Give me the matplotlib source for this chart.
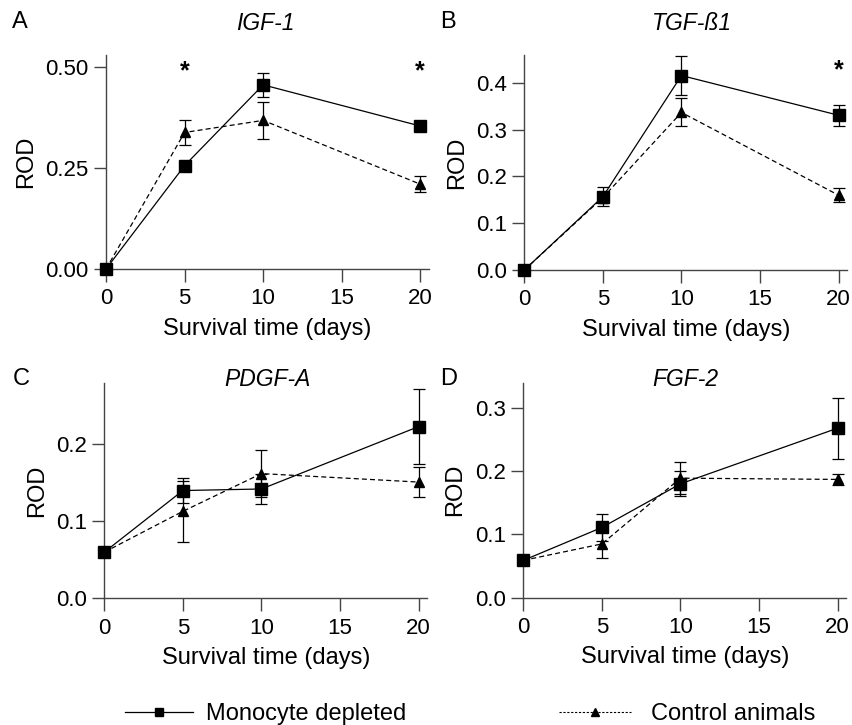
import numpy as np
import matplotlib.pyplot as plt
from matplotlib.lines import Line2D

plt.rcParams['font.family'] = ['Liberation Sans', 'DejaVu Sans']

days = [0, 5, 10, 20]

# IGF-1
igf_mono = [0.0, 0.256, 0.456, 0.354]
igf_mono_err = [0.0, 0.0, 0.030, 0.0]
igf_ctrl = [0.0, 0.338, 0.368, 0.210]
igf_ctrl_err = [0.0, 0.030, 0.045, 0.020]

# TGF-ß1
tgf_mono = [0.0, 0.157, 0.416, 0.331]
tgf_mono_err = [0.0, 0.021, 0.042, 0.023]
tgf_ctrl = [0.0, 0.155, 0.337, 0.160]
tgf_ctrl_err = [0.0, 0.0, 0.030, 0.015]

# PDGF-A
pdgf_mono = [0.060, 0.140, 0.142, 0.223]
pdgf_mono_err = [0.0, 0.016, 0.020, 0.049]
pdgf_ctrl = [0.060, 0.113, 0.162, 0.151]
pdgf_ctrl_err = [0.0, 0.040, 0.030, 0.020]

# FGF-2
fgf_mono = [0.059, 0.111, 0.180, 0.268]
fgf_mono_err = [0.0, 0.022, 0.020, 0.048]
fgf_ctrl = [0.059, 0.085, 0.189, 0.187]
fgf_ctrl_err = [0.0, 0.022, 0.025, 0.009]

panels = [
    ('A', 'IGF-1', igf_mono, igf_mono_err, igf_ctrl, igf_ctrl_err,
     0.53, [0, 0.25, 0.5], ['0.00', '0.25', '0.50'], [(5, 0.49), (20, 0.49)]),
    ('B', 'TGF-ß1', tgf_mono, tgf_mono_err, tgf_ctrl, tgf_ctrl_err,
     0.46, [0, 0.1, 0.2, 0.3, 0.4], ['0.0', '0.1', '0.2', '0.3', '0.4'], [(20, 0.427)]),
    ('C', 'PDGF-A', pdgf_mono, pdgf_mono_err, pdgf_ctrl, pdgf_ctrl_err,
     0.28, [0, 0.1, 0.2], ['0.0', '0.1', '0.2'], []),
    ('D', 'FGF-2', fgf_mono, fgf_mono_err, fgf_ctrl, fgf_ctrl_err,
     0.34, [0, 0.1, 0.2, 0.3], ['0.0', '0.1', '0.2', '0.3'], []),
]

# axes rectangles in figure fraction (left, bottom, width, height)
rects = [
    (0.1243, 0.629, 0.3785, 0.2952),
    (0.6147, 0.6276, 0.3785, 0.2966),
    (0.1223, 0.1747, 0.3785, 0.2974),
    (0.6135, 0.1756, 0.3785, 0.2966),
]
# panel letter (x, y) and title (x, y), figure fraction
letter_pos = [(0.014, 0.970), (0.516, 0.970), (0.015, 0.477), (0.516, 0.477)]
title_pos = [(0.311, 0.968), (0.811, 0.968), (0.313, 0.477), (0.803, 0.477)]
spine_c = '#444444'

fig = plt.figure(figsize=(8.53, 7.25), dpi=100)

for i, p in enumerate(panels):
    letter, title, mono, mono_err, ctrl, ctrl_err, ytop, yt, ytl, stars = p
    ax = fig.add_axes(rects[i])
    ax.errorbar(days, ctrl, yerr=ctrl_err, color='black', ls=(0, (4, 2.5)), lw=0.9,
                marker='^', ms=7, capsize=4.5, elinewidth=0.9, capthick=0.9,
                clip_on=False, zorder=3)
    ax.errorbar(days, mono, yerr=mono_err, color='black', ls='-', lw=0.9,
                marker='s', ms=8, capsize=4.5, elinewidth=0.9, capthick=0.9,
                clip_on=False, zorder=4)
    for sx, sy in stars:
        ax.text(sx, sy, '*', ha='center', va='center', fontsize=18, fontweight='bold')
    ax.set_xlim(0, 20.55)
    ax.set_ylim(0, ytop)
    ax.set_xticks([0, 5, 10, 15, 20])
    ax.set_yticks(yt)
    ax.set_yticklabels(ytl)
    for s in ['top', 'right']:
        ax.spines[s].set_visible(False)
    for s in ['left', 'bottom']:
        ax.spines[s].set_color(spine_c)
        ax.spines[s].set_linewidth(1.0)
    ax.tick_params(length=9, width=1.0, color=spine_c, labelsize=16)
    ax.tick_params(axis='x', pad=5)
    ax.tick_params(axis='y', pad=3.5)
    ax.set_xlabel('Survival time (days)', fontsize=17, labelpad=6)
    ax.set_ylabel('ROD', fontsize=17, labelpad=6)
    fig.text(letter_pos[i][0], letter_pos[i][1], letter, fontsize=17, ha='left', va='center')
    fig.text(title_pos[i][0], title_pos[i][1], title, fontsize=16.5, style='italic',
             ha='center', va='center')

h1 = Line2D([], [], color='black', lw=0.9, marker='s', ms=6)
h2 = Line2D([], [], color='black', lw=0.8, ls=(0, (2, 1.5)), marker='^', ms=5.5)
fig.legend([h1], ['Monocyte depleted'], loc='center left', bbox_to_anchor=(0.1465, 0.015),
           frameon=False, fontsize=17, handlelength=2.9, handletextpad=0.55,
           borderpad=0, borderaxespad=0)
fig.legend([h2], ['Control animals'], loc='center left', bbox_to_anchor=(0.6553, 0.015),
           frameon=False, fontsize=17, handlelength=3.05, handletextpad=0.85,
           borderpad=0, borderaxespad=0)

fig.savefig('out.png', dpi=100)
